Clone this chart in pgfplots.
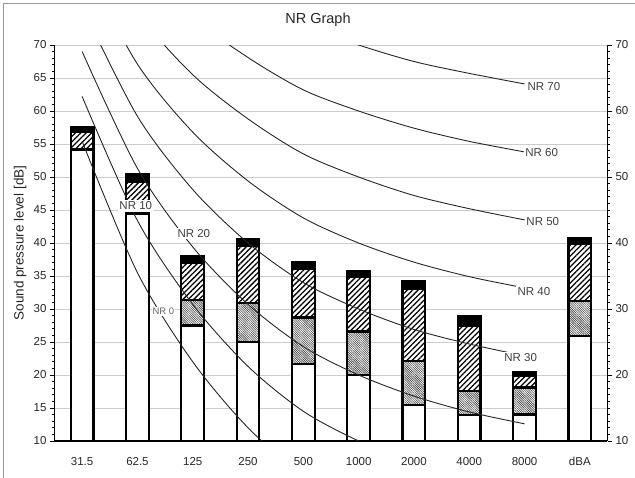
\documentclass[border=0pt]{standalone}
\usepackage{fontspec}
\setmainfont{Liberation Sans}
\usepackage{pgfplots}
\usepackage{pgfplotstable}
\pgfplotsset{compat=1.18}
\usetikzlibrary{patterns,patterns.meta}

\pgfplotstableread{
x b h g w
0 57.5 56.8 54.3 54.1
1 50.4 49.2 44.6 44.4
2 38.0 37.0 31.4 27.5
3 40.6 39.5 30.9 25.0
4 37.1 36.0 28.7 21.7
5 35.8 34.8 26.6 20.0
6 34.2 33.1 22.1 15.4
7 28.9 27.5 17.6 13.9
8 20.5 19.9 18.1 14.0
9 40.8 39.8 31.2 25.9
}\bars

\begin{document}
\begin{tikzpicture}
\useasboundingbox (0,0) rectangle (635pt,477pt);
\draw[black!40, line width=1pt] (3pt,-5pt) rectangle (640pt,473.5pt);
\begin{axis}[
  at={(54.5pt,36pt)}, anchor=south west,
  scale only axis, width=553pt, height=396pt,
  xmin=-0.5, xmax=9.5, ymin=10, ymax=70,
  axis x line*=bottom, axis y line*=left,
  axis line style={-, black, line width=1.2pt},
  xtick={0,...,9},
  xticklabels={31.5,62.5,125,250,500,1000,2000,4000,8000,dBA},
  x tick style={draw=none},
  ytick={10,15,...,70},
  minor y tick num=4,
  tick align=outside,
  major tick length=4.5pt, minor tick length=2.5pt,
  y tick style={black, line width=0.8pt},
  ymajorgrids, grid style={black!20, line width=0.9pt},
  /pgf/number format/assume math mode=true,
  ticklabel style={font=\fontsize{11.5}{13}\selectfont, text=black!85},
  xticklabel style={yshift=-8pt},
  ylabel={Sound pressure level [dB]},
  ylabel style={at={(axis description cs:-0.062,0.5)}, anchor=center, font=\fontsize{13.5}{15}\selectfont, text=black!85},
  title={NR Graph},
  title style={at={(axis description cs:0.4765,1.048)}, anchor=center, font=\fontsize{14.5}{16}\selectfont, text=black!85},
]
% bars (drawn top segment first, each from baseline)
\addplot[ybar, bar width=22.7pt, bar shift=0pt, fill=black, draw=black, line width=2.2pt] table[x=x,y=b]{\bars};
\addplot[ybar, bar width=22.7pt, bar shift=0pt, fill=white, draw=black, line width=2.2pt,
  postaction={pattern={Lines[angle=45,distance=3.8pt,line width=1.3pt]}, pattern color=black}] table[x=x,y=h]{\bars};
\addplot[ybar, bar width=22.7pt, bar shift=0pt, fill=white, draw=black, line width=2.2pt,
  postaction={pattern={Lines[angle=-45,distance=1.6pt,line width=0.6pt]}, pattern color=black!75}] table[x=x,y=g]{\bars};
\addplot[ybar, bar width=22.7pt, bar shift=0pt, fill=white, draw=black, line width=2.2pt] table[x=x,y=w]{\bars};
% NR curves
\addplot[smooth, black!85, line width=0.9pt] coordinates {(0,55.4)(1,35.5)(2,22.0)(3,12.0)(4,4.8)(5,0)(6,-3.5)(7,-6.1)(8,-8.0)};
\addplot[smooth, black!85, line width=0.9pt] coordinates {(0,62.2)(1,43.4)(2,30.7)(3,21.3)(4,14.5)(5,10)(6,6.6)(7,4.2)(8,2.3)};
\addplot[smooth, black!85, line width=0.9pt] coordinates {(0,69.0)(1,51.3)(2,39.4)(3,30.7)(4,24.3)(5,20)(6,16.8)(7,14.4)(8,12.6)};
\addplot[smooth, black!85, line width=0.9pt] coordinates {(0,75.8)(1,59.2)(2,48.1)(3,40.0)(4,34.0)(5,30)(6,26.9)(7,24.7)(8,22.9)};
\addplot[smooth, black!85, line width=0.9pt] coordinates {(0,82.6)(1,67.1)(2,56.8)(3,49.4)(4,43.8)(5,40)(6,37.1)(7,34.9)(8,33.2)};
\addplot[smooth, black!85, line width=0.9pt] coordinates {(0,89.4)(1,75.0)(2,65.5)(3,58.8)(4,53.5)(5,50)(6,47.2)(7,45.2)(8,43.5)};
\addplot[smooth, black!85, line width=0.9pt] coordinates {(0,96.3)(1,82.9)(2,74.2)(3,68.1)(4,63.2)(5,60)(6,57.4)(7,55.4)(8,53.8)};
\addplot[smooth, black!85, line width=0.9pt] coordinates {(0,103.1)(1,90.8)(2,82.9)(3,77.5)(4,73.0)(5,70)(6,67.5)(7,65.7)(8,64.1)};
% labels
\node[fill=white, inner sep=1pt, font=\fontsize{9.5}{11}\selectfont, text=black!60] at (axis cs:1.47,29.6) {NR 0};
\node[fill=white, inner sep=1.5pt, font=\fontsize{11.5}{13}\selectfont, text=black!75] at (axis cs:0.97,45.6) {NR 10};
\node[fill=white, inner sep=1.5pt, font=\fontsize{11.5}{13}\selectfont, text=black!75] at (axis cs:2.02,41.4) {NR 20};
\node[fill=white, inner sep=1.5pt, font=\fontsize{11.5}{13}\selectfont, text=black!75] at (axis cs:7.93,22.6) {NR 30};
\node[fill=white, inner sep=1.5pt, font=\fontsize{11.5}{13}\selectfont, text=black!75] at (axis cs:8.17,32.6) {NR 40};
\node[fill=white, inner sep=1.5pt, font=\fontsize{11.5}{13}\selectfont, text=black!75] at (axis cs:8.33,43.2) {NR 50};
\node[fill=white, inner sep=1.5pt, font=\fontsize{11.5}{13}\selectfont, text=black!75] at (axis cs:8.31,53.7) {NR 60};
\node[fill=white, inner sep=1.5pt, font=\fontsize{11.5}{13}\selectfont, text=black!75] at (axis cs:8.35,63.7) {NR 70};
\end{axis}
\begin{axis}[
  at={(54.5pt,36pt)}, anchor=south west,
  scale only axis, width=553pt, height=396pt,
  xmin=-0.5, xmax=9.5, ymin=10, ymax=70,
  axis x line=none, axis y line*=right,
  axis line style={-, black, line width=1.2pt},
  ytick={10,20,...,70},
  minor y tick num=9,
  tick align=outside,
  major tick length=4.5pt, minor tick length=2.5pt,
  y tick style={black, line width=0.8pt},
  /pgf/number format/assume math mode=true,
  ticklabel style={font=\fontsize{11.5}{13}\selectfont, text=black!85},
]
\addplot[draw=none] coordinates {(0,10)};
\end{axis}
\end{tikzpicture}
\end{document}
